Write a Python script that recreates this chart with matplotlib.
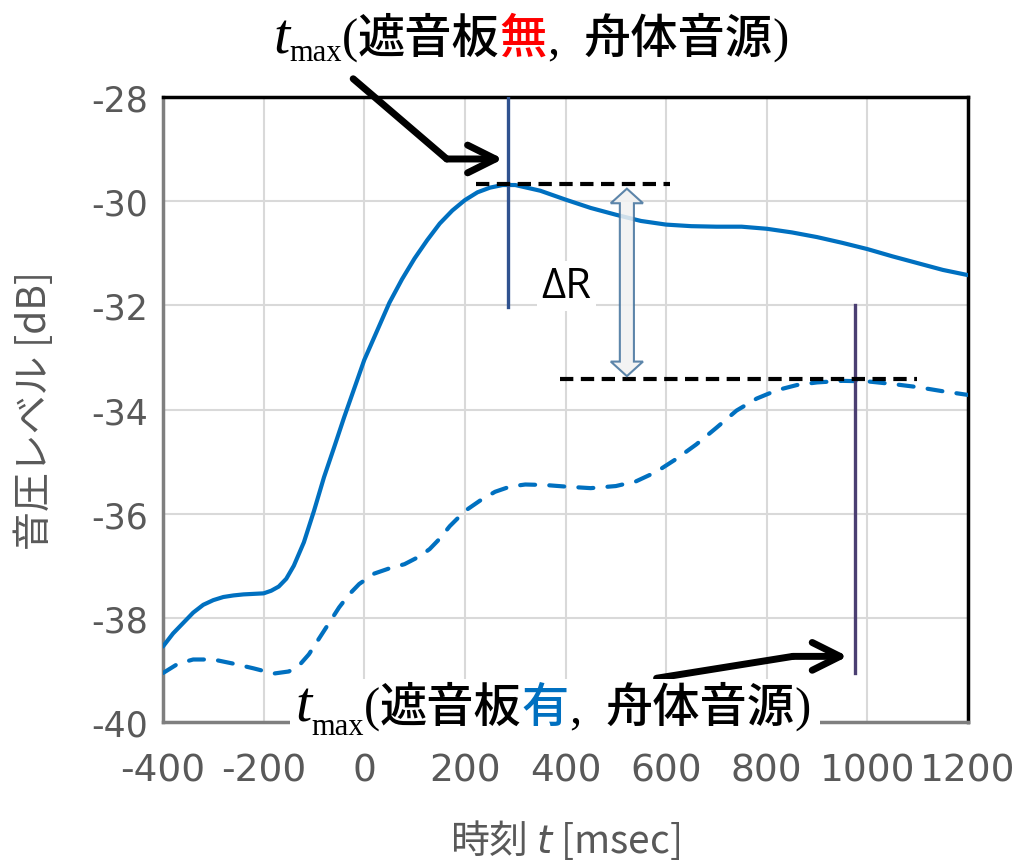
import numpy as np
import matplotlib.pyplot as plt
from matplotlib.patches import Polygon, Rectangle

plt.rcParams['axes.unicode_minus'] = False

# data
t_open = [-400, -380, -360, -340, -320, -300, -280, -260, -240, -220, -200, -185, -170,
          -155, -140, -120, -100, -80, -60, -40, -20,
          0, 25, 50, 75, 100, 125, 150, 175, 200, 225, 250, 275, 300, 350, 400, 450,
          500, 550, 600, 650, 700, 750, 800, 850, 900, 950, 1000, 1050, 1100, 1150, 1200]
spl_open = [-38.55, -38.3, -38.1, -37.9, -37.75, -37.66, -37.6, -37.57, -37.55, -37.54,
            -37.53, -37.48, -37.4, -37.25, -37.0, -36.55, -35.95,
            -35.3, -34.73, -34.15, -33.6, -33.05, -32.5, -31.95, -31.5, -31.1, -30.75,
            -30.43, -30.18, -29.98, -29.83, -29.74, -29.69, -29.69, -29.8, -29.97, -30.13,
            -30.26, -30.38, -30.45, -30.48, -30.49, -30.49, -30.53, -30.6, -30.69, -30.8,
            -30.92, -31.06, -31.19, -31.32, -31.42]

t_screen = [-400, -370, -340, -300, -260, -220, -180, -150, -130, -110, -90, -70, -50, -30,
            -10, 20, 50, 80, 110, 130, 150, 170, 200, 230, 260, 290, 320, 360, 400, 450,
            500, 540, 580, 620, 660, 700, 740, 780, 820, 860, 900, 950, 1000, 1050, 1100,
            1150, 1200]
spl_screen = [-39.06, -38.88, -38.8, -38.8, -38.88, -38.97, -39.07, -39.03, -38.92, -38.7,
              -38.4, -38.1, -37.8, -37.55, -37.35, -37.15, -37.05, -36.97, -36.82, -36.68,
              -36.48, -36.24, -35.95, -35.75, -35.58, -35.48, -35.44, -35.45, -35.48, -35.51,
              -35.47, -35.38, -35.2, -34.95, -34.67, -34.35, -34.02, -33.79, -33.63, -33.53,
              -33.48, -33.45, -33.46, -33.51, -33.57, -33.65, -33.72]

x_ticks = [-400, -200, 0, 200, 400, 600, 800, 1000, 1200]
y_ticks = [-40, -38, -36, -34, -32, -30, -28]

# annotation anchors (data units)
tmax_open, tmax_open_ylim = 286, (-32.04, -28.0)
tmax_screen, tmax_screen_ylim = 975, (-39.06, -32.0)
peak_open, peak_open_span = -29.67, (223, 608)
peak_screen, peak_screen_span = -33.42, (389, 1098)
dr_x, dr_top, dr_bot = 522, -29.76, -33.36

BLUE = '#0070C0'
GRAY = '#595959'
CJK = ['Noto Sans CJK JP', 'DejaVu Sans']
SERIF = ['Liberation Serif', 'DejaVu Serif']

W, H = 1015, 862
fig = plt.figure(figsize=(W / 100, H / 100), dpi=100)
ax = fig.add_axes([163 / W, 1 - 723 / H, 805 / W, 625 / H])

ax.plot(t_open, spl_open, color=BLUE, lw=3, solid_capstyle='round', zorder=3)
ax.plot(t_screen, spl_screen, color=BLUE, lw=3, ls=(0, (3.6, 3.4)),
        dash_capstyle='round', zorder=3)

ax.set_xlim(-400, 1200)
ax.set_ylim(-40, -28)
ax.set_xticks(x_ticks)
ax.set_yticks(y_ticks)
ax.grid(color='#D9D9D9', lw=1.5)
ax.set_axisbelow(True)
ax.tick_params(length=0, colors=GRAY)
ax.tick_params(axis='y', pad=11)
ax.tick_params(axis='x', pad=22)
for lab in ax.get_yticklabels():
    lab.set_fontfamily(['DejaVu Sans'])
    lab.set_fontsize(25)
for lab in ax.get_xticklabels():
    lab.set_fontfamily(['Liberation Sans Narrow', 'DejaVu Sans'])
    lab.set_fontsize(27)

for side in ['top', 'right']:
    ax.spines[side].set_color('black')
    ax.spines[side].set_linewidth(2.5)
for side in ['left', 'bottom']:
    ax.spines[side].set_color('#7F7F7F')
    ax.spines[side].set_linewidth(2.5)

ax.set_ylabel('音圧レベル [dB]', fontsize=28, color=GRAY, family=CJK)
ax.yaxis.set_label_coords(-0.159, 0.5)
ax.yaxis.label.set_va('center')
ax.set_xlabel('時刻 $t$ [msec]', fontsize=28, color=GRAY, family=CJK)
ax.xaxis.set_label_coords(0.5, -0.187)
ax.xaxis.label.set_va('center')

# t_max markers
ax.plot([tmax_open] * 2, tmax_open_ylim, color='#2F528F', lw=2.4, zorder=4)
ax.plot([tmax_screen] * 2, tmax_screen_ylim, color='#4B3F72', lw=2.4, zorder=4)

# peak level lines
ax.plot(peak_open_span, [peak_open] * 2, color='black', lw=3, ls=(0, (3.2, 1.8)), zorder=5)
ax.plot(peak_screen_span, [peak_screen] * 2, color='black', lw=3, ls=(0, (3.2, 1.8)), zorder=5)

# double block arrow for delta R
sw, hh, hl = 14, 32, 0.28
verts = [(dr_x, dr_top), (dr_x + hh, dr_top - hl), (dr_x + sw, dr_top - hl),
         (dr_x + sw, dr_bot + hl), (dr_x + hh, dr_bot + hl), (dr_x, dr_bot),
         (dr_x - hh, dr_bot + hl), (dr_x - sw, dr_bot + hl), (dr_x - sw, dr_top - hl),
         (dr_x - hh, dr_top - hl)]
ax.add_patch(Polygon(verts, closed=True, fc='#F2F2F2', ec='#41719C', lw=1.5,
                     alpha=0.85, zorder=6))

ax.text(402, -31.63, 'ΔR', ha='center', va='center', fontsize=30,
        family=['Open Sans', 'DejaVu Sans'], zorder=7,
        bbox=dict(fc='white', ec='none', pad=3))

# arrows pointing at t_max
arrow_kw = dict(arrowstyle='->,head_length=0.5,head_width=0.25', lw=5, color='black',
                shrinkA=0, shrinkB=0, mutation_scale=40, capstyle='round', joinstyle='round')
ax.plot([-22, 164], [-27.65, -29.19], color='black', lw=5, solid_capstyle='round',
        clip_on=False, zorder=8)
ax.annotate('', xy=(276, -29.19), xytext=(164, -29.19), arrowprops=arrow_kw,
            annotation_clip=False, zorder=8)
ax.plot([581, 852], [-39.16, -38.74], color='black', lw=5, solid_capstyle='round', zorder=8)
ax.annotate('', xy=(961, -38.74), xytext=(852, -38.74), arrowprops=arrow_kw, zorder=8)


def put_rich(pieces, x_px, base_px):
    r = fig.canvas.get_renderer()
    x = x_px
    for s, kw, dy in pieces:
        if s is None:
            x += dy
            continue
        t = fig.text(x / W, 1 - (base_px + dy) / H, s, ha='left', va='baseline',
                     zorder=10, **kw)
        x += t.get_window_extent(r).width


def label_pieces(word, color, sub_dy):
    jp = dict(family=CJK, weight='medium', fontsize=34)
    return [
        ('t', dict(family=SERIF, style='italic', fontsize=42), 0),
        ('max', dict(family=SERIF, fontsize=22), sub_dy),
        ('(', dict(family=SERIF, fontsize=35), 0),
        ('遮音板', jp, 0),
        (word, dict(jp, color=color), 0),
        (',', dict(family=SERIF, fontsize=35), 0),
        (None, None, 24),
        ('舟体音源', jp, 0),
        (')', dict(family=SERIF, fontsize=35), 0),
    ]


put_rich(label_pieces('無', '#FF0000', 8), 273, 53)

fig.add_artist(Rectangle((290 / W, 1 - 745 / H), 530 / W, 65 / H,
                         transform=fig.transFigure, fc='white', ec='none', zorder=9))
put_rich(label_pieces('有', BLUE, 13), 295, 722)

fig.savefig('out.png', dpi=100)
